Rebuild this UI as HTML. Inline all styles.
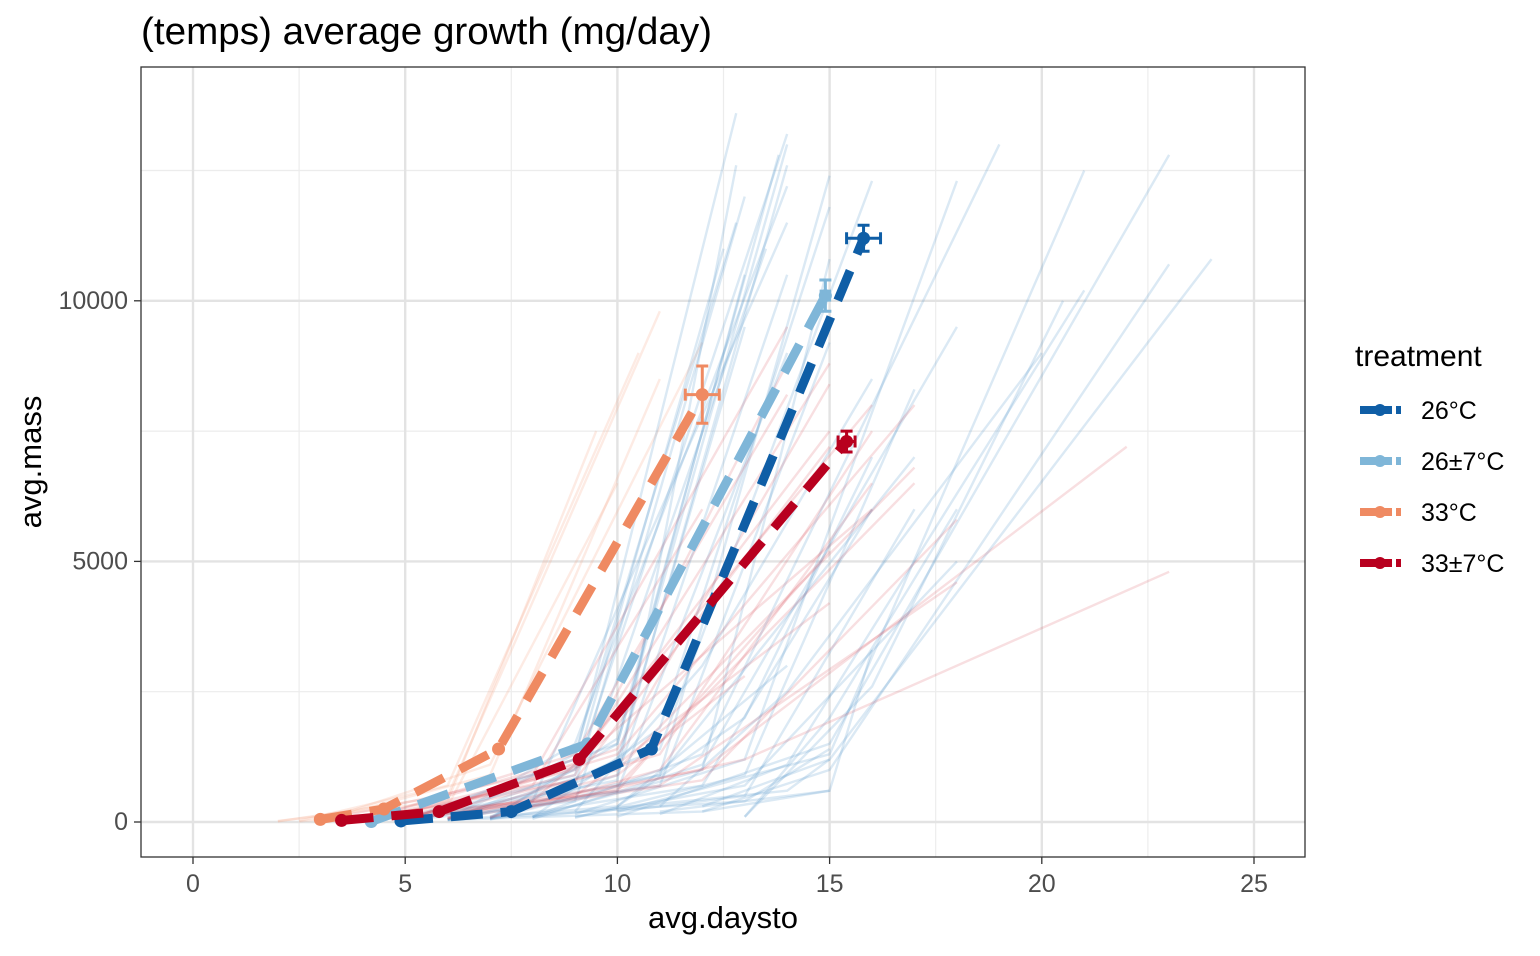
<!DOCTYPE html>
<html><head><meta charset="utf-8"><style>
body{margin:0;background:#fff;font-family:"Liberation Sans",Arial,sans-serif}
svg text{font-family:"Liberation Sans",Arial,sans-serif}
</style></head><body>
<svg id="chart" width="1540" height="951" viewBox="0 0 1540 951" xmlns="http://www.w3.org/2000/svg">
<rect width="1540" height="951" fill="#fff"/>
<text x="141" y="44" font-size="38" textLength="571" lengthAdjust="spacingAndGlyphs" fill="#000">(temps) average growth (mg/day)</text>
<g id="grid"></g>
<g id="indiv"></g>
<g id="main"></g>
<rect x="141" y="67" width="1164" height="790" fill="none" stroke="#333" stroke-width="1.3"/>
<g id="axes"></g>
<text x="723" y="928" font-size="31" text-anchor="middle">avg.daysto</text>
<text transform="translate(41,462) rotate(-90)" font-size="31" text-anchor="middle">avg.mass</text>
<g id="legend"></g>
</svg>
<script>
const xTicks=[0,5,10,15,20,25];
const yTicks=[0,5000,10000];
const treatments=["26°C","26±7°C","33°C","33±7°C"];
const colors=["#0F5EA6","#7FB6D8","#EF8A62","#B8001F"];
const seriesX=[[4.9,7.5,10.8,15.8],[4.2,9.3,14.9],[3.0,4.5,7.2,12.0],[3.5,5.8,9.1,15.4]];
const seriesY=[[20,200,1400,11200],[10,1500,10100],[50,250,1400,8200],[30,200,1200,7300]];
const errY=[250,300,550,200];
const errX=[0.4,0.1,0.4,0.2];
// individual trajectories: x0,y0,x1,y1,x2,y2
const blueLines=[[5,30,9,900,14,13200],[5,20,9,1200,12.8,13600],[5,50,10,1500,14,13000],[6,40,11,900,15,12400],[5,30,9,700,13,12000],[6,60,10,1100,14,12600],[7,100,11,1400,16,12300],[5,20,10,800,12.8,12600],[8,100,12,1300,19,13000],[9,150,13,1200,18,12300],[10,200,15,1300,21,12500],[10,100,15,1500,23,12800],[12,300,15,1200,24,10800],[12,200,15,1000,23,10700],[11,150,14,1100,21,10200],[13,100,16,2600,20.5,10000],[8,60,12,1100,18,9500],[7,50,11,900,17,7000],[6,40,10,600,14,9000],[9,80,13,900,17,8300],[7,50,12,700,16,6000],[8,100,12,1000,15,10800],[6,60,11,700,15,9200],[9,100,13,700,18,5000],[10,200,13,500,17,6000],[11,200,15,600,16,3300],[5,30,8,400,14,11500],[5,20,9,400,13.5,11000],[6,50,9,1300,12.8,11500],[7,80,10,1500,13,10500],[8,100,14,600,15,1200],[7,80,13,400,15,1400],[6,40,12,200,15,600],[13,100,15,2000,18,6000],[11,300,14,2500,20,9000],[9,200,12,3000,16,8500],[10,300,13,2000,16,7000],[6,30,10,300,14,3000],[6,50,9,1500,14,12200],[7,60,10,1600,13.8,12800],[6,40,9,1000,12.5,11000],[7,70,10,1200,13,9500],[8,90,11,1800,15,11800],[7,60,10,900,14,10500]];
const redLines=[[3,20,8,900,14,9500],[4,30,9,1000,15,8800],[4,40,9,1200,16,8000],[5,50,10,1300,17,8000],[5,60,10,1000,17,6800],[4,40,9,800,15,7200],[6,80,11,1300,16,7500],[5,40,10,700,17,6500],[6,80,12,1000,22,7200],[7,100,13,1200,23,4800],[5,50,11,700,18,4600],[6,60,12,800,18,5800],[4,30,8,700,12,6000],[4,20,9,900,14,8800],[5,40,9,1100,15,7500],[3,20,8,400,16,6000],[6,70,10,900,13,2800],[7,80,11,1000,16,6500],[5,40,10,600,15,5200],[4,30,9,500,15,4200],[4,30,9,1300,14,8200],[5,40,10,1400,15,8400]];
const orangeLines=[[2,10,6,500,11,9800],[2.5,20,6,700,10.5,9000],[3,30,7,900,11,8500],[2,20,6,400,9.5,7500],[3,20,7,1100,12,9200],[2.5,10,6,300,10,6500]];

const X=v=>193+v*42.44, Y=v=>822-v*0.05212;
const NS="http://www.w3.org/2000/svg";
function mk(tag,attrs,parent){const e=document.createElementNS(NS,tag);for(const k in attrs)e.setAttribute(k,attrs[k]);parent.appendChild(e);return e;}
const grid=document.getElementById('grid'),axes=document.getElementById('axes');
[2.5,7.5,12.5,17.5,22.5].forEach(v=>{const l=mk('line',{x1:X(v),x2:X(v),y1:67,y2:857,stroke:'#ececec','stroke-width':1.2},grid);});
[2500,7500,12500].forEach(v=>{const l=mk('line',{x1:141,x2:1305,y1:Y(v),y2:Y(v),stroke:'#ececec','stroke-width':1.2},grid);});
xTicks.forEach(v=>{const l=mk('line',{x1:X(v),x2:X(v),y1:67,y2:857,stroke:'#e3e3e3','stroke-width':2.4},grid);
 const t=mk('line',{x1:X(v),x2:X(v),y1:857,y2:864,stroke:'#333','stroke-width':1.3},axes);
 const tx=mk('text',{x:X(v),y:892,'font-size':25,'text-anchor':'middle',fill:'#4d4d4d'},axes);tx.textContent=v;});
yTicks.forEach(v=>{const l=mk('line',{x1:141,x2:1305,y1:Y(v),y2:Y(v),stroke:'#e3e3e3','stroke-width':2.4},grid);
 const t=mk('line',{x1:134,x2:141,y1:Y(v),y2:Y(v),stroke:'#333','stroke-width':1.3},axes);
 const tx=mk('text',{x:128,y:Y(v)+8,'font-size':25,'text-anchor':'end',fill:'#4d4d4d'},axes);tx.textContent=v;});
const indiv=document.getElementById('indiv');
function drawIndiv(arr,col,op){arr.forEach(a=>{const p=mk('polyline',{points:`${X(a[0])},${Y(a[1])} ${X(a[2])},${Y(a[3])} ${X(a[4])},${Y(a[5])}`,fill:'none',stroke:col,'stroke-opacity':op,'stroke-width':2.4},indiv);
 
 });}
drawIndiv(orangeLines,'#F4A582',0.22);
drawIndiv(blueLines,'#4A90C8',0.2);
drawIndiv(redLines,'#D6404E',0.17);
const main=document.getElementById('main');
treatments.forEach((t,i)=>{
 const xs=seriesX[i],ys=seriesY[i],n=xs.length;
 const g=mk('g',{},main);
 const pl=mk('polyline',{points:xs.map((x,j)=>X(x)+','+Y(ys[j])).join(' '),fill:'none',stroke:colors[i],'stroke-width':9,'stroke-dasharray':'32,18'},g);
 
 
 xs.forEach((x,j)=>{const c=mk('circle',{cx:X(x),cy:Y(ys[j]),r:6.5,fill:colors[i]},g);
 
 });
 const lx=X(xs[n-1]),ly=Y(ys[n-1]),ey=errY[i]*0.05212,ex=errX[i]*42.44;
 const eb=mk('path',{d:`M${lx},${ly-ey}V${ly+ey}M${lx-6},${ly-ey}H${lx+6}M${lx-6},${ly+ey}H${lx+6}M${lx-ex},${ly}H${lx+ex}M${lx-ex},${ly-6}V${ly+6}M${lx+ex},${ly-6}V${ly+6}`,stroke:colors[i],'stroke-width':3,fill:'none'},g);
 
 
});
const lg=document.getElementById('legend');
const lt=mk('text',{x:1355,y:366,'font-size':30},lg);lt.textContent='treatment';
treatments.forEach((t,i)=>{const y=410+i*51;
 const g=mk('g',{},lg);
 mk('line',{x1:1360,x2:1401,y1:y,y2:y,stroke:colors[i],'stroke-width':8,'stroke-dasharray':'32,4'},g);
 mk('circle',{cx:1380,cy:y,r:6,fill:colors[i]},g);
 const tx=mk('text',{x:1421,y:y+9,'font-size':25},g);tx.textContent=t;});
</script>
</body></html>
